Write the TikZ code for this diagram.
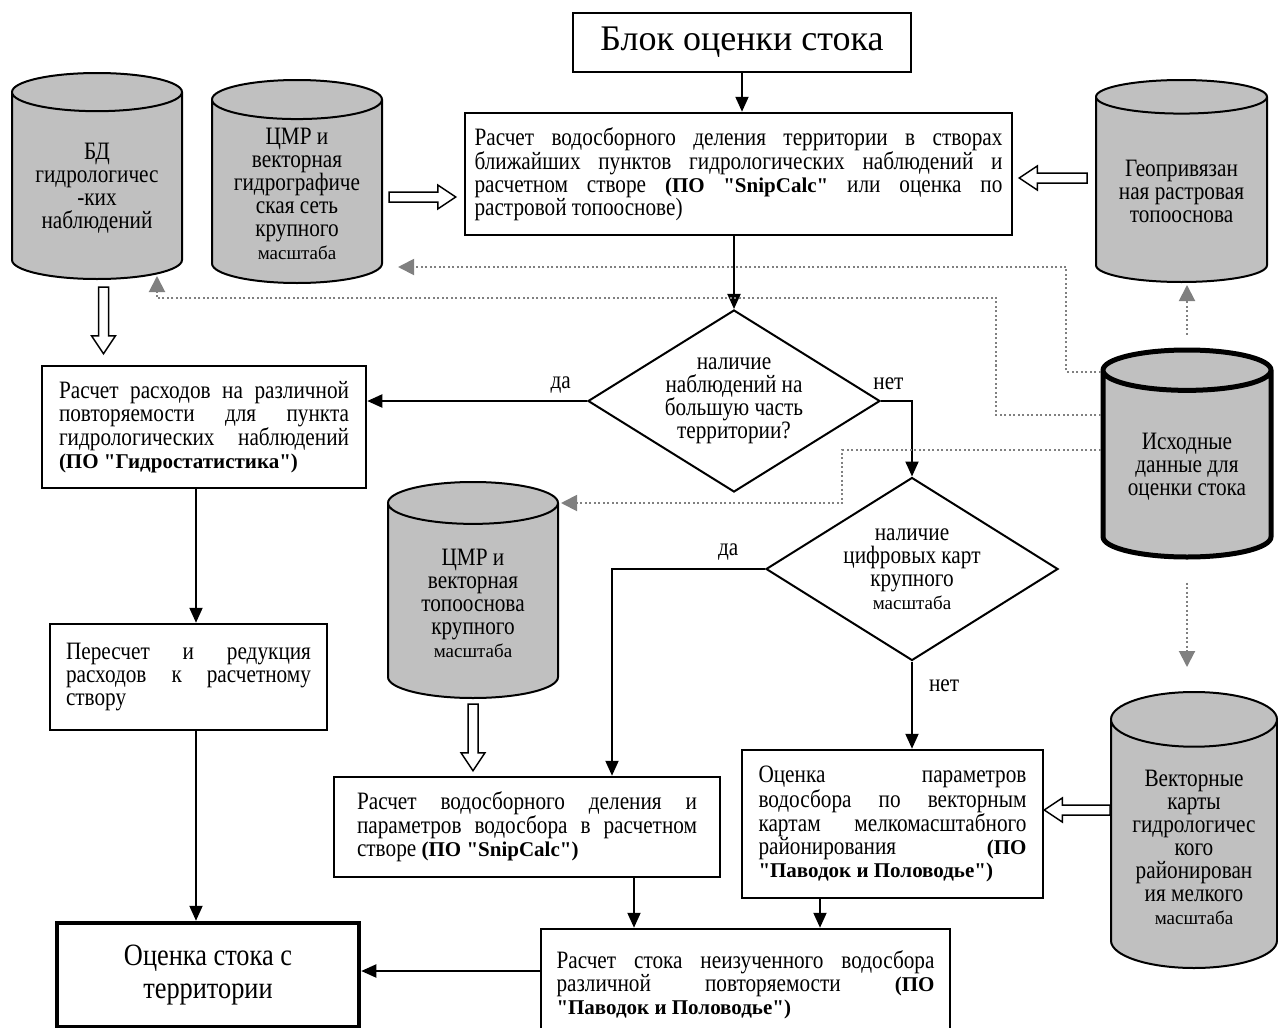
\documentclass[tikz,border=0pt]{standalone}
\usepackage{fontspec}
\setmainfont[Ligatures=TeXOff]{Liberation Serif}
\newfontfamily\cnd[FakeStretch=0.85]{Liberation Serif}
\usetikzlibrary{positioning,calc,shapes.geometric,arrows.meta}
\definecolor{dbgray}{RGB}{192,192,192}
\definecolor{dotgray}{RGB}{128,128,128}
\newcommand{\pofont}{\normalfont\bfseries\fontsize{21}{23}\selectfont}
\newcommand{\mfont}{\normalfont\fontsize{19}{23}\selectfont}
\tikzset{x=1pt, y=-1pt}
\tikzstyle{blk}=[draw, line width=2.5pt, fill=white, inner sep=0pt, align=justify, font=\cnd\fontsize{25}{23}\selectfont]
\tikzstyle{db}=[cylinder, shape border rotate=90, aspect=0.3, draw, line width=2pt, fill=dbgray, minimum width=170pt, inner sep=2pt, anchor=shape center, align=center, font=\cnd\fontsize{25}{23}\selectfont]
\tikzstyle{dec}=[diamond, aspect=1.6, draw, line width=2pt, fill=white, inner sep=0pt, minimum width=292pt, minimum height=182pt, align=center, font=\cnd\fontsize{25}{23}\selectfont]
\tikzstyle{lbl}=[inner sep=2pt, font=\cnd\fontsize{25}{23}\selectfont]
\tikzstyle{arr}=[line width=2pt, -{Triangle[length=15pt,width=13pt]}]
\tikzstyle{dotarr}=[dotgray, line width=2pt, dash pattern=on 2pt off 2.5pt, -{Triangle[length=16pt,width=16pt]}]
\tikzset{hol/.style 2 args={draw, line width=1.5pt, fill=white, to path={
  let \p1=(\tikztostart), \p2=(\tikztotarget), \n2={veclen(\x2-\x1,\y2-\y1)-(#1)-(#2)} in
  [rotate around={atan2(\y2-\y1,\x2-\x1):(\p1)}]
  (\x1+#1,\y1+5pt) -- ++(\n2-18pt,0pt) -- ++(0pt,7pt) -- ++(18pt,-12pt)
  -- ++(-18pt,-12pt) -- ++(0pt,7pt) -- ++(18pt-\n2,0pt) -- cycle}}}

\begin{document}
\begin{tikzpicture}
\useasboundingbox (0,0) rectangle (1278,1028);
\node[blk, align=center, font=\fontsize{36}{36}\selectfont, minimum width=338pt, minimum height=59pt] (top) at (742,42.5) {Блок оценки стока};
\node[blk, text width=528pt, minimum width=547pt, minimum height=122pt] (main) at (738.5,174) {Расчет водосборного деления территории в створах\linebreak ближайших пунктов гидрологических наблюдений и\linebreak расчетном створе {\pofont(ПО "SnipCalc"} или оценка по\linebreak растровой топооснове)};
\node[db, minimum height=206pt] (c1) at (97,176) {БД\\гидрологичес\\-ких\\наблюдений};
\node[db, minimum height=203pt] (c2) at (297,181.5) {ЦМР и\\векторная\\гидрографиче\\ская сеть\\крупного\\{\mfont масштаба}};
\node[db, minimum width=171pt, minimum height=202pt, aspect=0.26] (cR) at (1181.5,181) {Геопривязан\\ная растровая\\топооснова};
\node[db, line width=5pt, minimum width=168pt, minimum height=207pt, aspect=0.33] (src) at (1187,453.5) {Исходные\\данные для\\оценки стока};
\node[dec] (d1) at (734,401) {наличие\\наблюдений на\\большую часть\\территории?};
\node[blk, text width=290pt, minimum width=324pt, minimum height=122pt] (left) at (204,427) {Расчет расходов на различной\linebreak повторяемости для пункта\linebreak гидрологических наблюдений\linebreak {\pofont(ПО "Гидростатистика")}};
\node[dec, minimum height=183pt] (d2) at (912,569) {наличие\\цифровых карт\\крупного\\{\mfont масштаба}};
\node[db, minimum height=216pt, aspect=0.39] (c10) at (473,590) {ЦМР и\\векторная\\топооснова\\крупного\\{\mfont масштаба}};
\node[blk, text width=245pt, minimum width=277pt, minimum height=106pt] (pere) at (188.5,677) {Пересчет и редукция\linebreak расходов к расчетному\linebreak створу};
\node[blk, text width=340pt, minimum width=386pt, minimum height=100pt] (b12) at (527,827) {Расчет водосборного деления и\linebreak параметров водосбора в расчетном\linebreak створе {\pofont(ПО "SnipCalc")}};
\node[blk, text width=268pt, minimum width=301pt, minimum height=148pt] (b13) at (892.5,824) {Оценка параметров\linebreak водосбора по векторным\linebreak картам мелкомасштабного\linebreak районирования {\pofont(ПО}\linebreak {\pofont"Паводок и Половодье")}};
\node[db, minimum width=166pt, minimum height=276pt, aspect=0.43] (c14) at (1194,830) {Векторные\\карты\\гидрологичес\\кого\\районирован\\ия мелкого\\{\mfont масштаба}};
\node[blk, text width=378pt, minimum width=409pt, minimum height=111pt] (b16) at (745.5,984.5) {Расчет стока неизученного водосбора\linebreak различной повторяемости {\pofont(ПО}\linebreak {\pofont"Паводок и Половодье")}};
\node[blk, line width=4.5pt, align=center, font=\cnd\fontsize{31}{33}\selectfont, minimum width=302pt, minimum height=104pt] (est) at (208,975) {Оценка стока с\\территории};

\draw[arr] (top) -- (top |- main.north);
\draw[arr] (d1 |- main.south) -- (d1);
\draw[arr] (d1) -- node[lbl, pos=0.12, above=5pt] {да} (d1 -| left.east);
\draw[arr] (d1.east) -| node[lbl, pos=0.12, above=8pt] {нет} (d2.north);
\draw[arr] (d2.west) -| node[lbl, pos=0.12, above=6pt] {да} ([xshift=85pt]b12.north);
\draw[arr] (d2) -- node[lbl, pos=0.28, right=14pt] {нет} (d2 |- b13.north);
\draw[arr] ([xshift=-8pt]left.south) -- ([xshift=-8pt]left.south |- pere.north);
\draw[arr] ([xshift=7.5pt]pere.south) -- ([xshift=7.5pt]pere.south |- est.north);
\draw[arr] ([xshift=107pt]b12.south) -- ([xshift=107pt]b12.south |- b16.north);
\draw[arr] ([xshift=-72.5pt]b13.south) -- ([xshift=-72.5pt]b13.south |- b16.north);
\draw[arr] ([yshift=13.5pt]b16.west) -- ([yshift=13.5pt]b16.west -| est.east);

\path[hol={6pt}{8pt}] (c2.east |- 0,197) to (main.west |- 0,197);
\path[hol={8pt}{6pt}] (cR.west |- 0,178) to (main.east |- 0,178);
\path[hol={7pt}{11pt}] (c1.south -| 103.5,0) to (left.north -| 103.5,0);
\path[hol={5pt}{5pt}] (c10.south) to (c10.south |- b12.north);
\path[hol={0pt}{0pt}] (c14.west |- 0,810) to (b13.east |- 0,810);

\draw[dotarr, shorten >=15pt] (src.west |- 0,372) -| (1066,267) -- (c2.east |- 0,267);
\draw[dotarr, shorten >=-4pt] (src.west |- 0,415) -| (996,298) -| (c1.south -| 157,0);
\draw[dotarr, shorten >=2pt] (src.west |- 0,450) -| (842,503) -- (c10.east |- 0,503);
\draw[dotarr, shorten <=13pt, shorten >=2pt] (src.north) -- (src.north |- cR.south);
\draw[dotarr, shorten <=23pt, shorten >=24pt] (src.south) -- (src.south |- c14.north);
\end{tikzpicture}
\end{document}
